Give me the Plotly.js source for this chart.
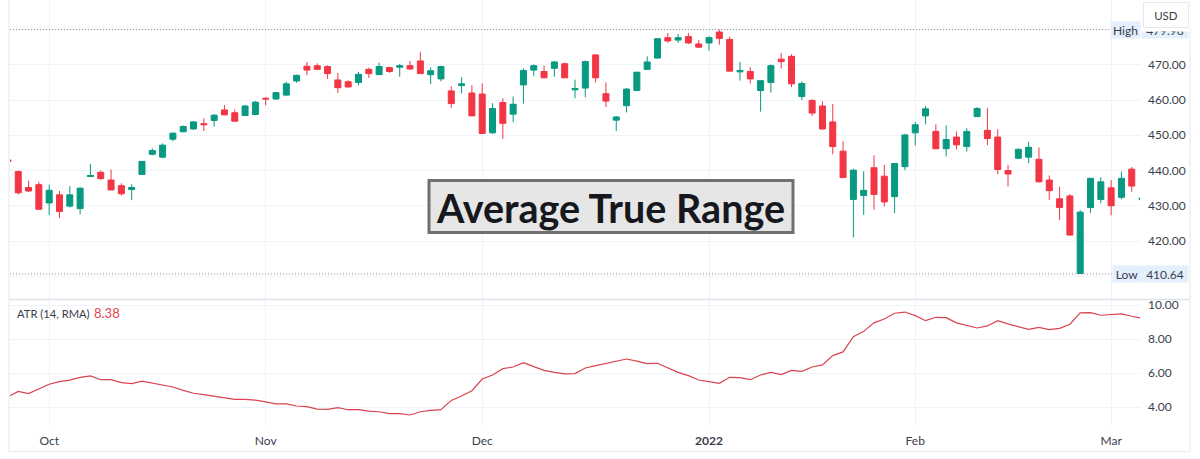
<!DOCTYPE html>
<html>
<head>
<meta charset="utf-8">
<script src="https://cdn.plot.ly/plotly-3.0.1.min.js"></script>
<style>html,body{margin:0;padding:0;background:#fff}#chart{width:1200px;height:459px}</style>
</head>
<body>
<div id="chart"></div>
<script>
// Session order: first value is the partly hidden session before the first full candle
var openPrices = [443,
439.7,435.2,436,430.8,433.1,429.9,429.2,438.3,439.5,437.3,
435.7,434.6,438.9,444.6,443.8,448.9,451,451.8,453.3,454.2,
457.2,456.4,455.6,455.9,460.5,460.3,461.4,465.4,469.6,469.75,
469.5,465.7,465.2,465,468.7,467.2,469.2,469.3,469.75,471.1,
467.2,466,462.6,464.1,462,461.7,450.7,459.3,456,464.3,
468.5,468.1,469,470.3,462.9,463.4,472.8,461.8,454.3,458.4,
462.7,468.7,471.9,477.7,477,478,475.9,476.2,479.3,477.2,
468,468.1,462.7,465,471.6,472.4,461,459.9,458.3,453.8,
445.5,431.8,432.9,440.8,438.4,432.6,441.1,450.7,455.5,451.1,
446.2,449.5,446.8,455.3,451.4,449.5,440,443.5,443.8,443.2,
437.3,432,432.8,410.8,429.5,431.8,435.1,432.4,440.4,431.8];
var highPrices = [443,
440,437.1,436.8,436,434.2,435.6,435.2,441.9,440,440.3,
436.4,436.1,442.7,446.3,447.7,450.8,452.8,454,454.8,456,
458.6,457.3,458.6,459.7,460.8,462.3,465.2,467.2,470.8,470.4,
469.85,467.7,465.6,468,469.2,470.6,469.4,470.2,471.1,473.7,
469.3,469.75,463.9,466.5,464.2,464.7,459.1,460.5,461,469,
470.1,469.75,471.1,470.6,465.8,471.2,473,465,455.5,463.4,
467.9,472.4,477.5,479,478.7,479,477,478.1,479.98,478,
470.8,469.3,465.7,470.1,473.3,473,465.3,460.2,459.6,458.9,
448.3,440.5,439.8,444.3,441.6,442,450.4,453.8,458.3,453.1,
452.8,451.1,452,458,457.8,451.7,441.6,446.3,448.2,446.6,
438.6,435.4,433.3,428.8,437.8,438.1,437.3,439.7,441,432.4];
var lowPrices = [442.6,
433.2,433.9,429,427.4,426.5,429.5,427.6,438.2,437.4,434.4,
432.9,431.6,438.7,444.3,443.5,448.3,450.9,451.5,451.2,452.5,
455.7,453.9,455.5,455.8,458.5,460.1,461.2,464.9,467.1,468.5,
466,462,463.6,464.2,466.3,467.1,467.7,466.6,468.6,467.4,
464.5,465.3,457.8,461.9,455.5,450.4,450.4,449,453.7,459,
466.9,466.3,466.6,466.3,460.5,460.8,465,458,451.2,456.5,
462.7,468.6,471.8,476.3,476.2,475.9,474.8,474,475.7,468.1,
465.5,464.7,456.7,462.1,468.9,463.7,460,455.5,451.6,444.6,
437.9,421,427.4,428.9,429.8,427.9,440.1,447.1,453.1,446,
444,446,445.4,455.2,447.2,439,435.5,443.3,442.1,436.6,
431.7,426,421.5,410.64,428,430.7,427.3,431.8,434,431.6];
var closePrices = [442.6,
433.7,434.2,429,434.4,428.4,433.1,435,438.6,437.7,434.5,
433.4,435.2,442.6,445.7,447.2,450.6,452.5,453.8,453,455.7,
455.8,454,458.3,459.4,460.3,462.1,464.6,467,468.5,468.7,
467.5,463.5,463.7,467.3,467.5,469.5,468.1,469.75,468.8,467.5,
468.3,469.5,459,464.6,455.5,450.5,457.6,453.4,458.8,468.4,
469.75,466.3,470.8,466.3,463.3,470.9,466.3,459.7,455.2,463.1,
467.9,470.8,477.4,476.75,477.7,476.2,475,477.7,477.5,468.2,
468.4,466,465.5,469.75,470.9,464.6,464.7,456.3,451.8,446.8,
438,440.1,434.4,433.2,431.1,442,450.1,453,457.5,446.2,
448.8,447.3,451.1,457.6,449.1,440.3,439,446,446.6,436.8,
434.3,429.5,421.7,428.2,437.8,436.8,430,437.8,435.6,432.2];
var atrValues = [4.61,
4.92,4.79,5.06,5.34,5.5,5.59,5.75,5.83,5.61,5.61,
5.44,5.38,5.53,5.42,5.32,5.18,4.98,4.81,4.73,4.63,
4.51,4.45,4.45,4.41,4.3,4.18,4.18,4.06,4.02,3.88,
3.86,3.96,3.84,3.84,3.76,3.72,3.61,3.61,3.53,3.72,
3.8,3.84,4.39,4.65,4.96,5.65,5.89,6.26,6.36,6.62,
6.38,6.16,6.04,5.95,5.97,6.3,6.44,6.58,6.73,6.83,
6.71,6.56,6.58,6.3,6.04,5.85,5.59,5.5,5.4,5.75,
5.73,5.61,5.89,6.04,5.91,6.16,6.1,6.36,6.48,7.03,
7.25,8.15,8.46,8.96,9.19,9.53,9.6,9.39,9.09,9.29,
9.27,8.96,8.8,8.66,8.78,9.09,8.9,8.76,8.58,8.7,
8.56,8.64,8.88,9.55,9.57,9.41,9.47,9.49,9.35,9.23];
var sessions = openPrices.map(function (_, i) { return i - 1; });

var monthTickSessions = [3, 24, 45, 67, 87, 106];
var monthTickLabels = ['Oct', 'Nov', 'Dec', '<b>2022</b>', 'Feb', 'Mar'];
var priceTicks = [410, 420, 430, 440, 450, 460, 470, 480];
var priceTickLabels = ['410.00', '420.00', '430.00', '440.00', '450.00', '460.00', '470.00', '480.00'];
var atrTicks = [4, 6, 8, 10];
var atrTickLabels = ['4.00', '6.00', '8.00', '10.00'];
var highPrice = 479.98, lowPrice = 410.64, atrLast = 8.38;

var W = 1200, H = 459, mL = 10, mR = 60, mT = 0, mB = 33;
var pw = W - mL - mR, ph = H - mT - mB;
function fx(p) { return (p - mL) / pw; }
function fy(p) { return (H - mB - p) / ph; }

var GREEN = '#089981', RED = '#f23645', GRID = '#f0f3fa', TEXT = '#3a3e4a';
var FONT = 'Lato, "Open Sans", sans-serif';

var traces = [{
  type: 'candlestick', x: sessions, open: openPrices, high: highPrices, low: lowPrices, close: closePrices,
  xaxis: 'x2', yaxis: 'y2',
  increasing: { line: { color: GREEN, width: 1 }, fillcolor: GREEN },
  decreasing: { line: { color: RED, width: 1 }, fillcolor: RED },
  whiskerwidth: 0, hoverinfo: 'skip', showlegend: false
}, {
  type: 'scatter', mode: 'lines', x: sessions, y: atrValues,
  xaxis: 'x', yaxis: 'y',
  line: { color: '#d9434e', width: 1.2 }, hoverinfo: 'skip', showlegend: false
}];

var xRange = [-0.8, 108.8];
function note(text, x, y, yref, w, h, bg, color, size, extra) {
  var a = { text: text, x: fx(x), xref: 'paper', xanchor: 'left', y: y, yref: yref, yanchor: 'middle',
    width: w, height: h, bgcolor: bg, showarrow: false, borderpad: 0, align: 'center',
    font: { family: FONT, size: size, color: color } };
  for (var k in (extra || {})) a[k] = extra[k];
  return a;
}

var layout = {
  width: W, height: H, margin: { l: mL, r: mR, t: mT, b: mB, pad: 0 },
  paper_bgcolor: '#ffffff', plot_bgcolor: '#ffffff', showlegend: false,
  boxgap: 0.17, hovermode: false,
  font: { family: FONT, color: TEXT, size: 12 },
  xaxis: { domain: [0, 1], range: xRange, anchor: 'y', tickmode: 'array', tickvals: monthTickSessions, ticktext: monthTickLabels,
    showgrid: true, gridcolor: GRID, gridwidth: 1, zeroline: false, showline: false, ticks: '', tickfont: { size: 12, color: TEXT, family: FONT },
    rangeslider: { visible: false }, ticklabelstandoff: 6 },
  xaxis2: { domain: [0, 1], range: xRange, anchor: 'y2', tickmode: 'array', tickvals: monthTickSessions, showticklabels: false,
    showgrid: true, gridcolor: GRID, gridwidth: 1, zeroline: false, showline: false, ticks: '', rangeslider: { visible: false } },
  yaxis: { domain: [0, fy(300)], range: [2.88, 10.31], side: 'right', anchor: 'x', tickmode: 'array', tickvals: atrTicks, ticktext: atrTickLabels,
    showgrid: true, gridcolor: GRID, zeroline: false, showline: false, ticks: '', ticklabelstandoff: 7, tickfont: { size: 12, color: TEXT, family: FONT } },
  yaxis2: { domain: [fy(299), 1], range: [403.56, 488.38], side: 'right', anchor: 'x2', tickmode: 'array', tickvals: priceTicks, ticktext: priceTickLabels,
    showgrid: true, gridcolor: GRID, zeroline: false, showline: false, ticks: '', ticklabelstandoff: 7, tickfont: { size: 12, color: TEXT, family: FONT } },
  shapes: [
    { type: 'line', xref: 'paper', yref: 'y2', x0: 0, x1: fx(1110), y0: highPrice, y1: highPrice, line: { color: '#8f929b', width: 1, dash: '1px,2px' } },
    { type: 'line', xref: 'paper', yref: 'y2', x0: 0, x1: fx(1112), y0: lowPrice, y1: lowPrice, line: { color: '#8f929b', width: 1, dash: '1px,2px' } },
    { type: 'line', xref: 'paper', yref: 'paper', x0: fx(9), x1: fx(1190), y0: fy(299.5), y1: fy(299.5), line: { color: '#e0e3eb', width: 1.5 } },
    { type: 'rect', xref: 'paper', yref: 'paper', x0: fx(9), x1: fx(1190), y0: fy(451.5), y1: fy(-2), line: { color: '#eef0f5', width: 1.5 }, fillcolor: 'rgba(0,0,0,0)' },
    { type: 'rect', xref: 'paper', yref: 'paper', x0: fx(429), x1: fx(793), y0: fy(232.5), y1: fy(180.5), line: { color: '#707070', width: 3 }, fillcolor: '#e6e6e6' }
  ],
  annotations: [
    note('High', 1110, highPrice, 'y2', 29, 16, '#e3effd', TEXT, 12),
    note('479.98', 1141, highPrice, 'y2', 46, 16, '#e3effd', TEXT, 12),
    note('Low', 1112, lowPrice, 'y2', 28, 16, '#e3effd', TEXT, 12),
    note('410.64', 1141, lowPrice, 'y2', 46, 16, '#e3effd', TEXT, 12),
    note(' ', 1141, fy(15.5), 'paper', 48, 31, '#ffffff', TEXT, 11),
    note('USD', 1143, fy(15), 'paper', 44, 24, '#ffffff', TEXT, 11.5, { bordercolor: '#e6e8ef', borderwidth: 1 }),
    { text: 'ATR (14, RMA)', xref: 'paper', yref: 'paper', x: fx(15), y: fy(313), xanchor: 'left', yanchor: 'middle', showarrow: false,
      font: { family: FONT, size: 11.2, color: TEXT } },
    { text: String(atrLast), xref: 'paper', yref: 'paper', x: fx(92), y: fy(313), xanchor: 'left', yanchor: 'middle', showarrow: false,
      font: { family: FONT, size: 13, color: '#e0454f' } },
    { text: '<b>Average True Range</b>', xref: 'paper', yref: 'paper', x: fx(610), y: fy(207), xanchor: 'center', yanchor: 'middle', showarrow: false,
      font: { family: FONT, size: 39.5, color: '#16181d' } }
  ]
};
Plotly.newPlot('chart', traces, layout, { displayModeBar: false, responsive: false });
</script>
</body>
</html>
